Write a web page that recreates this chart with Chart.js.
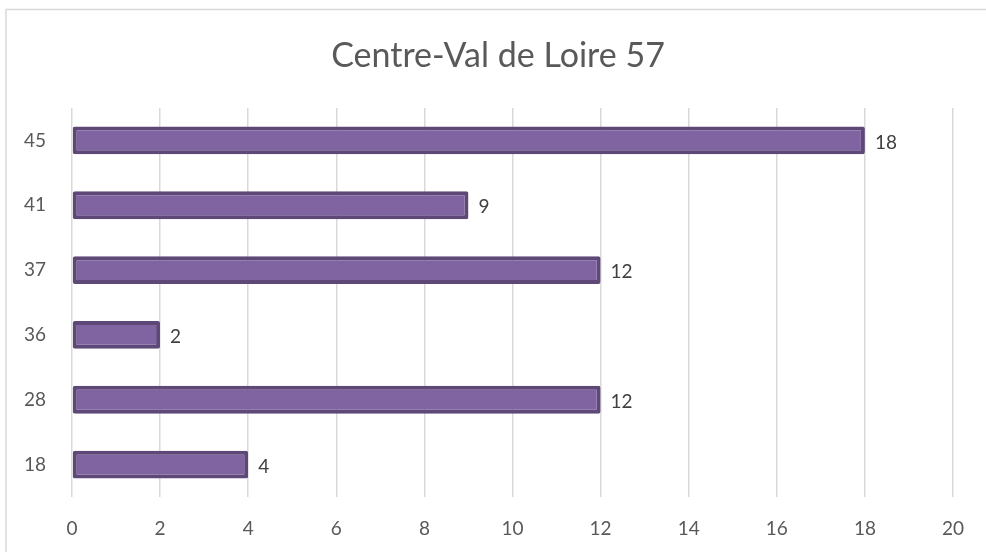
<!DOCTYPE html>
<html>
<head>
<meta charset="utf-8">
<script src="https://cdn.jsdelivr.net/npm/chart.js@4/dist/chart.umd.min.js"></script>
<style>
  html, body { margin: 0; padding: 0; background: #ffffff; }
  #wrap { width: 986px; height: 552px; position: relative; }
</style>
</head>
<body>
<div id="wrap"><canvas id="c" width="986" height="552"></canvas></div>
<script>
const chartTitle = "Centre-Val de Loire 57";
const categories = ["45", "41", "37", "36", "28", "18"];
const values = [18, 9, 12, 2, 12, 4];
const xTicks = [0, 2, 4, 6, 8, 10, 12, 14, 16, 18, 20];

const FONT = "Lato, 'Open Sans', sans-serif";

const framePlugin = {
  id: 'frame',
  beforeDraw(chart) {
    const ctx = chart.ctx;
    ctx.save();
    ctx.fillStyle = '#ffffff';
    ctx.fillRect(0, 0, chart.width, chart.height);
    ctx.strokeStyle = '#d9d9d9';
    ctx.lineWidth = 1.5;
    ctx.beginPath();
    ctx.moveTo(6, chart.height);
    ctx.lineTo(6, 9.5);
    ctx.lineTo(chart.width, 9.5);
    ctx.stroke();
    // title, centred as in the reference
    ctx.font = "34px " + FONT;
    ctx.fillStyle = '#595959';
    ctx.textAlign = 'center';
    ctx.textBaseline = 'middle';
    ctx.fillText(chartTitle, 498, 56);
    ctx.restore();
  }
};

const labelPlugin = {
  id: 'barLabels',
  afterDatasetsDraw(chart) {
    const ctx = chart.ctx;
    const meta = chart.getDatasetMeta(0);
    ctx.save();
    ctx.font = "19px " + FONT;
    ctx.fillStyle = '#404040';
    ctx.textAlign = 'left';
    ctx.textBaseline = 'middle';
    meta.data.forEach((bar, i) => {
      ctx.fillText(String(values[i]), bar.x + 10, bar.y + 2);
    });
    ctx.restore();
  }
};

new Chart(document.getElementById('c'), {
  type: 'bar',
  data: {
    labels: categories,
    datasets: [{
      data: values,
      backgroundColor: '#8064A2',
      borderColor: '#5D4878',
      borderWidth: 4,
      borderRadius: 2,
      borderSkipped: false,
      categoryPercentage: 1.0,
      barPercentage: 0.43
    }]
  },
  options: {
    indexAxis: 'y',
    responsive: false,
    animation: false,
    devicePixelRatio: 1,
    layout: { padding: { left: 0, right: 33, top: 108, bottom: 0 } },
    plugins: {
      legend: { display: false },
      tooltip: { enabled: false },
      title: { display: false }
    },
    scales: {
      x: {
        min: 0, max: 20,
        afterBuildTicks(scale) { scale.ticks = xTicks.map(v => ({ value: v })); },
        afterFit(scale) { scale.height = 55; },
        grid: { color: '#d9d9d9', lineWidth: 1.5, drawTicks: false },
        border: { display: false },
        ticks: { color: '#595959', font: { family: FONT, size: 19 }, padding: 20 }
      },
      y: {
        afterFit(scale) { scale.width = 72; },
        grid: { display: false, drawTicks: false },
        border: { display: false },
        ticks: { color: '#595959', font: { family: FONT, size: 19 }, padding: 26 }
      }
    }
  },
  plugins: [framePlugin, labelPlugin]
});
</script>
</body>
</html>
